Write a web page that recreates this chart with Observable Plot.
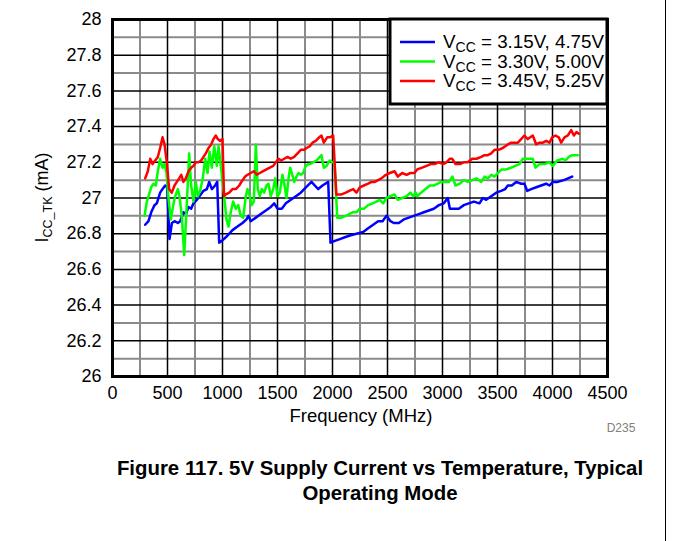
<!DOCTYPE html>
<html><head><meta charset="utf-8">
<script src="https://cdn.jsdelivr.net/npm/d3@7"></script>
<script src="https://cdn.jsdelivr.net/npm/@observablehq/plot@0.6"></script>
<style>
body{margin:0;background:#fff;font-family:"Liberation Sans",Arial,sans-serif;}
#wrap{position:relative;width:673px;height:541px;overflow:hidden;background:#fff;}
#chart{position:absolute;left:0;top:0;}
#caption{position:absolute;left:80px;width:600px;top:456px;text-align:center;font-weight:bold;font-size:20.4px;line-height:25px;color:#000;}
#border{position:absolute;left:665px;top:0;width:1px;height:541px;background:#000;}
</style></head>
<body><div id="wrap"><div id="chart"></div>
<div id="caption">Figure 117. 5V Supply Current vs Temperature, Typical<br>Operating Mode</div>
<div id="border"></div></div>
<script>
// Series: [frequency MHz, ICC_TK mA]
const s315 = [[297,26.85],[327,26.87],[352,26.92],[382,26.96],[403,26.97],[433,27.03],[455,27.05],[479,27.07],[497,27.06],[518,26.77],[540,26.86],[564,26.87],[594,26.86],[615,26.87],[645,26.92],[668,26.91],[691,26.95],[715,26.94],[736,26.97],[767,26.99],[791,27.01],[827,27.04],[858,27.05],[879,27.09],[903,27.05],[933,27.07],[952,27.09],[970,26.75],[994,26.76],[1030,26.78],[1091,26.82],[1136,26.84],[1182,26.86],[1218,26.88],[1236,26.90],[1257,26.87],[1303,26.89],[1348,26.91],[1394,26.93],[1439,26.95],[1470,26.97],[1500,26.94],[1539,26.94],[1576,26.97],[1621,26.99],[1667,27.01],[1712,27.03],[1758,27.06],[1809,27.09],[1839,27.07],[1870,27.05],[1909,27.07],[1961,27.09],[1982,26.75],[2021,26.76],[2067,26.77],[2112,26.78],[2158,26.79],[2218,26.80],[2279,26.81],[2324,26.83],[2370,26.85],[2415,26.87],[2455,26.87],[2491,26.90],[2527,26.87],[2557,26.86],[2603,26.86],[2648,26.88],[2694,26.89],[2739,26.90],[2785,26.91],[2830,26.92],[2876,26.93],[2921,26.94],[2967,26.96],[3012,26.97],[3048,27.00],[3067,26.94],[3103,26.94],[3148,26.94],[3194,26.96],[3239,26.97],[3285,26.98],[3336,26.97],[3367,27.00],[3397,26.99],[3443,27.01],[3488,27.03],[3533,27.04],[3570,27.05],[3594,27.07],[3630,27.07],[3670,27.09],[3715,27.08],[3745,27.08],[3770,27.04],[3806,27.05],[3852,27.06],[3897,27.07],[3942,27.08],[3973,27.07],[4003,27.09],[4042,27.09],[4103,27.10],[4179,27.12]];
const s330 = [[291,26.90],[312,26.98],[352,27.06],[373,27.08],[394,27.07],[412,27.15],[433,27.22],[455,27.17],[473,27.19],[491,27.14],[509,27.00],[530,26.88],[552,26.96],[570,27.01],[594,27.05],[609,27.01],[630,26.90],[652,26.68],[675,26.96],[697,27.25],[715,27.07],[736,26.98],[757,27.09],[775,27.01],[797,27.04],[821,27.11],[843,27.22],[864,27.14],[882,27.26],[903,27.17],[925,27.29],[948,27.18],[964,27.29],[988,27.16],[1015,27.01],[1036,26.88],[1055,26.84],[1075,26.92],[1097,26.98],[1121,26.94],[1143,26.96],[1166,26.90],[1188,26.89],[1212,27.01],[1227,27.05],[1248,27.01],[1266,26.96],[1285,26.98],[1303,27.30],[1321,27.05],[1339,27.01],[1357,27.05],[1379,27.03],[1400,27.07],[1418,27.08],[1439,27.01],[1461,27.05],[1479,27.11],[1500,27.01],[1521,27.03],[1545,27.13],[1564,27.07],[1582,27.00],[1600,27.11],[1615,27.17],[1630,27.14],[1652,27.09],[1673,27.12],[1691,27.14],[1712,27.13],[1733,27.14],[1757,27.18],[1782,27.19],[1794,27.19],[1824,27.20],[1855,27.21],[1885,27.23],[1900,27.24],[1921,27.17],[1945,27.18],[1975,27.21],[2000,27.20],[2018,27.20],[2043,26.89],[2082,26.89],[2121,26.90],[2152,26.91],[2182,26.92],[2218,26.92],[2248,26.94],[2285,26.94],[2324,26.96],[2364,26.97],[2400,26.98],[2430,26.99],[2461,26.97],[2491,27.00],[2527,27.01],[2564,27.02],[2594,26.99],[2634,27.00],[2673,27.01],[2709,27.03],[2734,27.01],[2755,27.03],[2770,27.01],[2806,27.03],[2845,27.05],[2885,27.07],[2921,27.07],[2957,27.08],[2982,27.09],[3018,27.09],[3057,27.09],[3091,27.12],[3118,27.07],[3157,27.08],[3194,27.10],[3230,27.09],[3270,27.10],[3309,27.11],[3352,27.09],[3382,27.12],[3412,27.11],[3443,27.13],[3473,27.12],[3503,27.14],[3539,27.16],[3579,27.16],[3625,27.17],[3661,27.18],[3700,27.19],[3730,27.22],[3775,27.22],[3821,27.22],[3845,27.17],[3882,27.19],[3927,27.19],[3973,27.20],[4003,27.18],[4042,27.21],[4091,27.22],[4118,27.21],[4148,27.23],[4179,27.24],[4230,27.24]];
const s345 = [[297,27.11],[321,27.15],[343,27.22],[364,27.19],[388,27.21],[412,27.23],[433,27.28],[455,27.34],[473,27.30],[494,27.20],[515,27.05],[539,27.03],[564,27.07],[585,27.09],[606,27.11],[625,27.13],[645,27.09],[666,27.11],[691,27.15],[715,27.17],[736,27.18],[757,27.20],[782,27.20],[806,27.21],[827,27.23],[848,27.25],[873,27.28],[897,27.30],[918,27.33],[939,27.35],[957,27.33],[979,27.32],[1000,27.33],[1014,27.01],[1030,27.02],[1061,27.03],[1091,27.05],[1121,27.05],[1152,27.07],[1182,27.10],[1206,27.12],[1227,27.13],[1257,27.14],[1288,27.15],[1312,27.13],[1339,27.14],[1370,27.15],[1400,27.16],[1430,27.17],[1461,27.18],[1485,27.20],[1509,27.22],[1533,27.21],[1561,27.22],[1591,27.23],[1621,27.22],[1652,27.23],[1682,27.25],[1712,27.27],[1743,27.27],[1764,27.28],[1794,27.29],[1818,27.31],[1848,27.32],[1879,27.34],[1900,27.35],[1921,27.31],[1952,27.34],[1975,27.34],[2006,27.35],[2035,27.02],[2082,27.02],[2121,27.03],[2152,27.04],[2188,27.05],[2218,27.03],[2248,27.06],[2285,27.07],[2324,27.08],[2355,27.09],[2385,27.09],[2415,27.10],[2445,27.11],[2485,27.13],[2521,27.14],[2564,27.15],[2594,27.12],[2634,27.14],[2673,27.13],[2709,27.14],[2745,27.14],[2770,27.16],[2815,27.17],[2855,27.18],[2891,27.19],[2927,27.19],[2966,27.20],[3006,27.19],[3036,27.20],[3066,27.22],[3088,27.22],[3118,27.19],[3157,27.19],[3194,27.20],[3230,27.20],[3270,27.22],[3309,27.22],[3352,27.23],[3382,27.24],[3412,27.24],[3443,27.25],[3473,27.27],[3509,27.27],[3548,27.28],[3594,27.30],[3625,27.31],[3655,27.31],[3685,27.31],[3715,27.33],[3745,27.35],[3775,27.33],[3821,27.35],[3852,27.30],[3882,27.31],[3912,27.31],[3942,27.32],[3973,27.31],[3997,27.34],[4027,27.35],[4057,27.34],[4079,27.31],[4109,27.34],[4139,27.35],[4170,27.38],[4194,27.35],[4218,27.37],[4239,27.36]];

const seriesNames = ["3.15V, 4.75V","3.30V, 5.00V","3.45V, 5.25V"];
const seriesColors = ["#0000ff","#00ff00","#ff0000"];
const xTicks = [0,500,1000,1500,2000,2500,3000,3500,4000,4500];
const yTicks = [26,26.2,26.4,26.6,26.8,27,27.2,27.4,27.6,27.8,28];
const xMinor = [250,750,1250,1750,2250,2750,3250,3750,4250];
const yMinor = [26.1,26.3,26.5,26.7,26.9,27.1,27.3,27.5,27.7,27.9];

const rows = [];
[s315,s330,s345].forEach((s,i)=>s.forEach(([f,v])=>rows.push({f,v,s:seriesNames[i]})));

const W=673,H=440,ML=112,MR=66,MT=19,MB=64;
const FONT='"Liberation Sans",Arial,sans-serif';
const plot = Plot.plot({
  width:W,height:H,marginLeft:ML,marginRight:MR,marginTop:MT,marginBottom:MB,
  style:{fontFamily:FONT,fontSize:"18px",color:"#000",background:"#fff",overflow:"visible"},
  x:{domain:[0,4500],ticks:xTicks,tickSize:0,tickPadding:10,label:null,tickFormat:d=>String(d)},
  y:{domain:[26,28],ticks:yTicks,tickSize:0,tickPadding:11,label:null,tickFormat:d=>String(+d.toFixed(1))},
  color:{domain:seriesNames,range:seriesColors},
  marks:[
    Plot.ruleX(xMinor,{stroke:"#8a8a8a",strokeWidth:2}),
    Plot.ruleY(yMinor,{stroke:"#8a8a8a",strokeWidth:2}),
    Plot.ruleX(xTicks,{stroke:"#000",strokeWidth:1.5}),
    Plot.ruleY(yTicks,{stroke:"#000",strokeWidth:1.5}),
    Plot.line(rows,{x:"f",y:"v",z:"s",stroke:"s",strokeWidth:2.5,strokeLinejoin:"round",curve:"linear"}),
    Plot.frame({stroke:"#000",strokeWidth:3})
  ]
});
document.getElementById("chart").appendChild(plot);

const svg = d3.select(plot);
const fRight = W-MR, fTop = MT, fBottom = H-MB;

// y-axis label with subscript
const yl = svg.append("text")
  .attr("transform",`translate(48,${(fTop+fBottom)/2}) rotate(-90)`)
  .attr("text-anchor","middle").attr("font-family",FONT).attr("font-size",18).attr("fill","#000");
yl.append("tspan").text("I");
yl.append("tspan").attr("font-size",12.5).attr("dy",4).text("CC_TK");
yl.append("tspan").attr("dy",-4).text(" (mA)");

// x-axis label
svg.append("text").attr("x",361).attr("y",fBottom+46)
  .attr("text-anchor","middle").attr("font-family",FONT).attr("font-size",18.5).attr("fill","#000")
  .text("Frequency (MHz)");
svg.append("text").attr("x",621).attr("y",fBottom+56)
  .attr("text-anchor","middle").attr("font-family",FONT).attr("font-size",12).attr("fill","#808080")
  .text("D235");

// legend
const lg = svg.append("g");
const lx = 390, lw = fRight-lx;
lg.append("rect").attr("x",lx).attr("y",fTop).attr("width",lw).attr("height",85)
  .attr("fill","#fff").attr("stroke","#000").attr("stroke-width",3);
seriesNames.forEach((n,i)=>{
  const yy = fTop+23+i*19.5;
  lg.append("line").attr("x1",400).attr("x2",435).attr("y1",yy).attr("y2",yy)
    .attr("stroke",seriesColors[i]).attr("stroke-width",2.5);
  const t = lg.append("text").attr("x",443).attr("y",yy+6).attr("font-family",FONT)
    .attr("text-anchor","start").attr("font-size",18.8).attr("fill","#000");
  t.append("tspan").text("V");
  t.append("tspan").attr("font-size",14).attr("dy",4).text("CC");
  t.append("tspan").attr("dy",-4).text(" = "+n);
});
</script>
</body></html>
